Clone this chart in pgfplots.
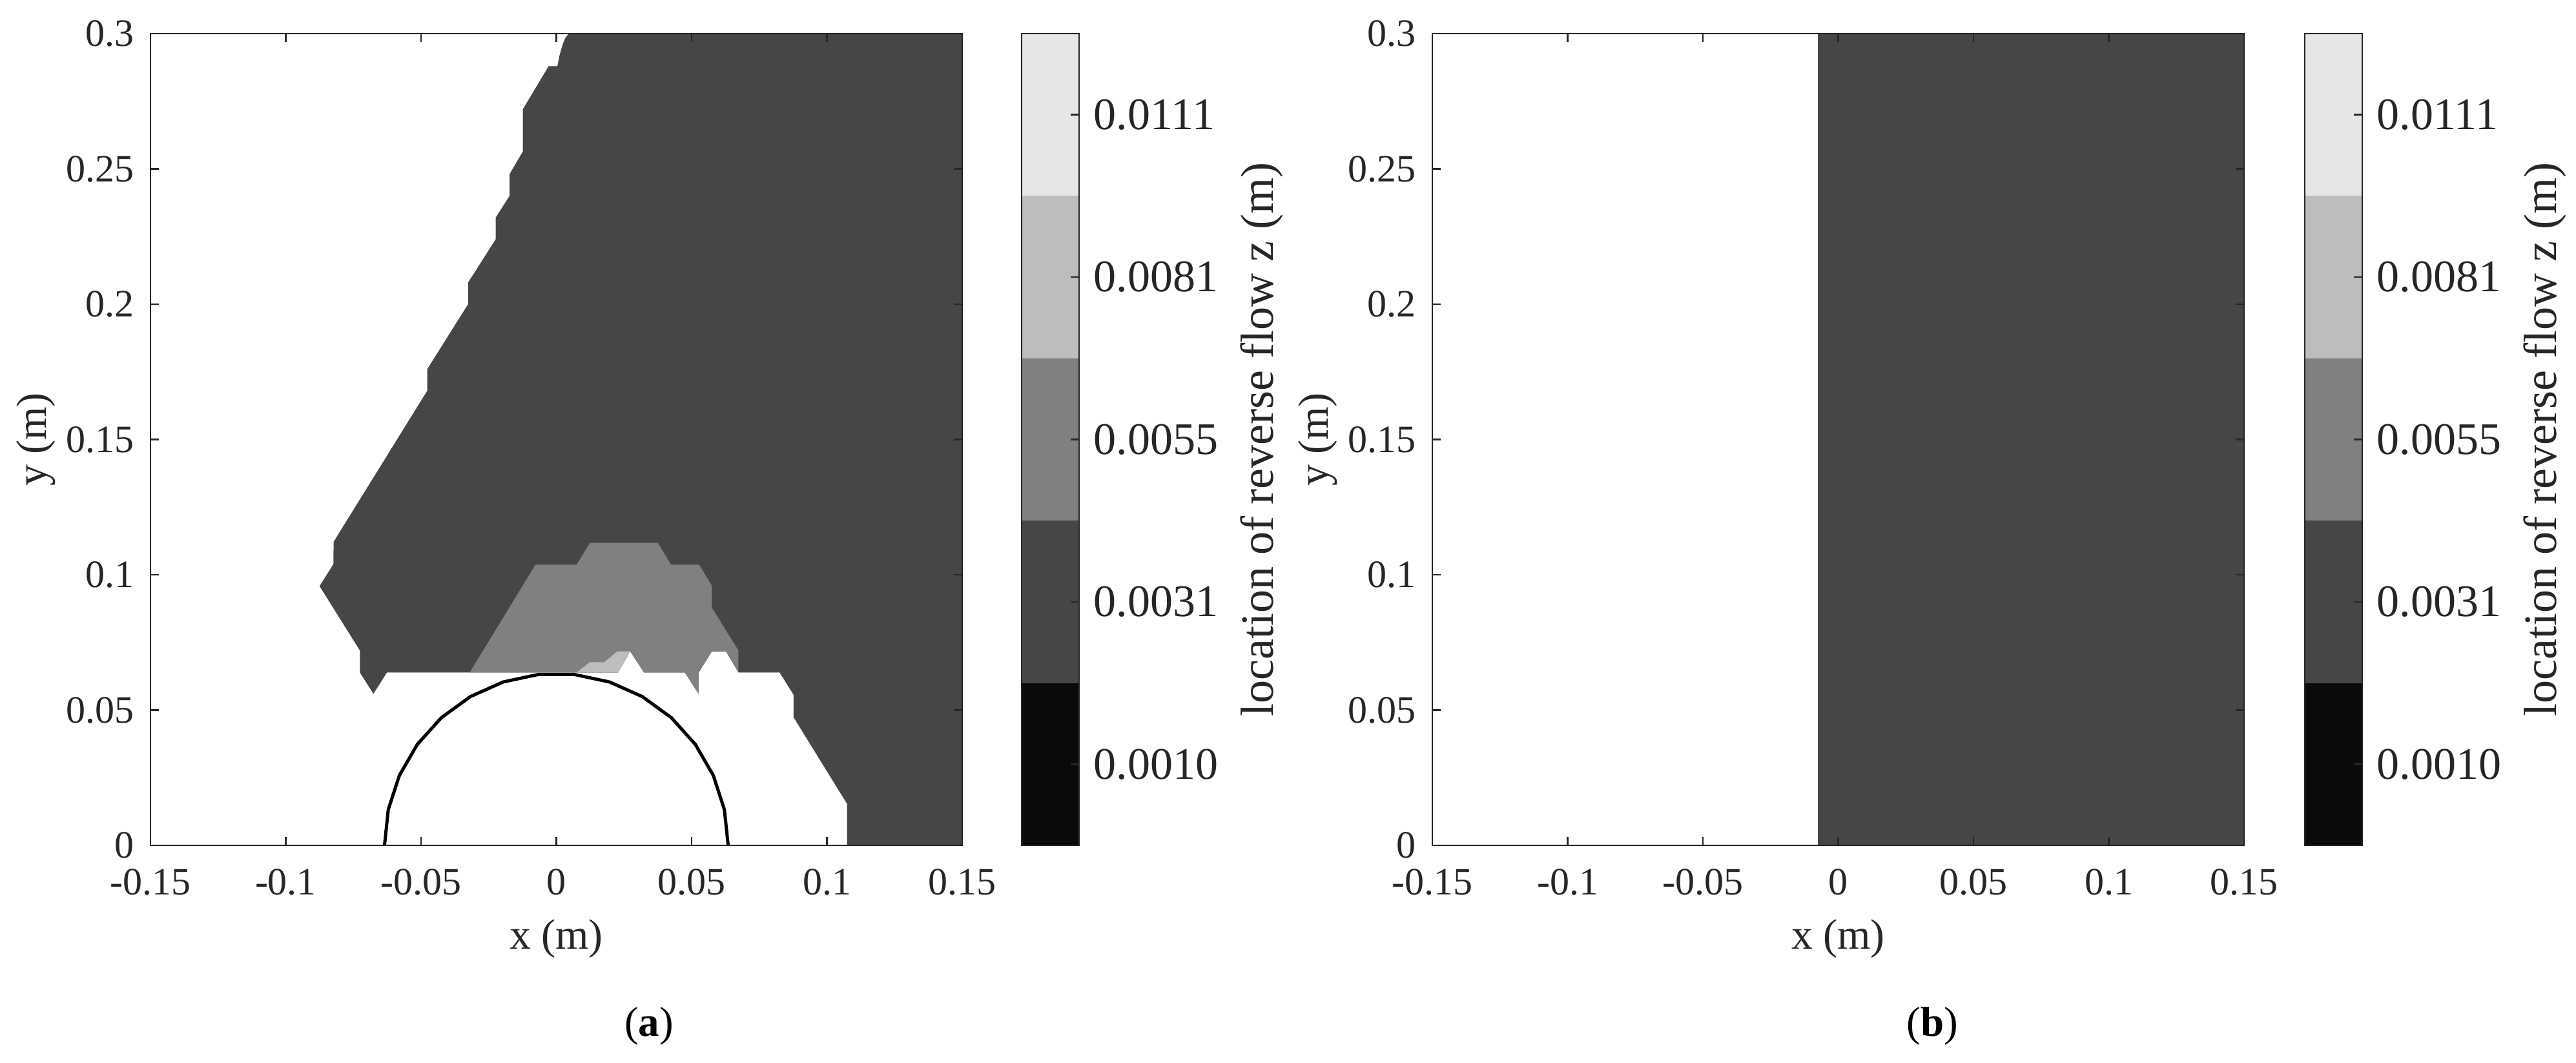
\documentclass[border=0pt]{standalone}
\usepackage{fontspec}
\setmainfont{Liberation Serif}
\usepackage{pgfplots}
\pgfplotsset{compat=1.18}
\definecolor{axgray}{HTML}{262626}
\definecolor{levA}{HTML}{0A0A0A}
\definecolor{levB}{HTML}{464646}
\definecolor{levC}{HTML}{808080}
\definecolor{levD}{HTML}{BDBDBD}
\definecolor{levE}{HTML}{E6E6E6}
\pgfplotsset{
  mainax/.style={
    scale only axis, width=251.4pt, height=251.4pt,
    xmin=-0.15, xmax=0.15, ymin=0, ymax=0.3,
    axis on top, tick align=inside, tick pos=both, major tick length=2.6pt,
    axis line style={draw=axgray, line width=0.55pt},
    tick style={draw=axgray, line width=0.55pt},
    xtick={-0.15,-0.1,-0.05,0,0.05,0.1,0.15},
    xticklabels={-0.15,-0.1,-0.05,0,0.05,0.1,0.15},
    ytick={0,0.05,0.1,0.15,0.2,0.25,0.3},
    yticklabels={0,0.05,0.1,0.15,0.2,0.25,0.3},
    xticklabel style={font=\fontsize{12}{14}\selectfont, text=axgray, yshift=-3.8pt},
    yticklabel style={font=\fontsize{12}{14}\selectfont, text=axgray, xshift=-1.6pt},
    xlabel={x (m)}, ylabel={y (m)},
    xlabel style={font=\fontsize{13.2}{15}\selectfont, text=axgray, at={(axis description cs:0.5,-0.1154)}, anchor=center},
    ylabel style={font=\fontsize{13.2}{15}\selectfont, text=axgray, at={(axis description cs:-0.1408,0.5)}, anchor=center},
  },
  cbar/.style={
    scale only axis, width=17.8pt, height=251.4pt,
    xmin=0, xmax=1, ymin=0, ymax=5,
    axis on top, xtick=\empty,
    ytick={0.5,1.5,2.5,3.5,4.5},
    yticklabels={0.0010,0.0031,0.0055,0.0081,0.0111},
    ytick pos=right, yticklabel pos=right,
    tick align=inside, major tick length=2.6pt,
    axis line style={draw=axgray, line width=0.55pt},
    tick style={draw=axgray, line width=0.55pt},
    yticklabel style={font=\fontsize{14}{16}\selectfont, text=axgray, xshift=1pt},
    ylabel={location of reverse flow z (m)},
    ylabel style={font=\fontsize{14.4}{16}\selectfont, text=axgray, at={(axis description cs:4.18,0.5)}, anchor=center},
  },
}
\begin{document}
\begin{tikzpicture}
\path[use as bounding box] (0,0) rectangle (797.8pt,329.2pt);

% ---------- panel (a) ----------
\begin{axis}[mainax, at={(46.6pt,67.4pt)}, anchor=south west]
\addplot[fill=levB, draw=none] coordinates {
(0.0046,0.3) (0.15,0.3) (0.15,0) (0.1074,0) (0.1074,0.0154) (0.0877,0.0473)
(0.0877,0.0556) (0.0825,0.0639) (0.0673,0.0639) (0.0627,0.0717) (0.0575,0.0717)
(0.0526,0.0639) (0.0526,0.0560) (0.0475,0.0639) (0.0324,0.0639) (0.0273,0.0717)
(0.0228,0.0639) (-0.0626,0.0639) (-0.0676,0.0560) (-0.0726,0.0639) (-0.0726,0.0720)
(-0.0875,0.0958) (-0.0824,0.1039) (-0.0823,0.1122) (-0.0477,0.168) (-0.0477,0.176)
(-0.0326,0.200) (-0.0326,0.208) (-0.0224,0.224) (-0.0224,0.232) (-0.0173,0.240)
(-0.0173,0.248) (-0.0124,0.2564) (-0.0124,0.272) (-0.0028,0.288) (0.0004,0.288)
(0.0012,0.292) (0.0024,0.2962) (0.0034,0.2985)
} --cycle;
\addplot[fill=levC, draw=none] coordinates {
(-0.0320,0.0639) (-0.0077,0.1037) (0.0075,0.1037) (0.0124,0.1118) (0.0375,0.1118)
(0.0424,0.1037) (0.0528,0.1037) (0.0575,0.0959) (0.0575,0.0878) (0.0673,0.0720)
(0.0673,0.0639) (0.0627,0.0717) (0.0575,0.0717) (0.0526,0.0639) (0.0526,0.0560)
(0.0475,0.0639) (0.0324,0.0639) (0.0273,0.0717) (0.0228,0.0639)
} --cycle;
\addplot[fill=levD, draw=none] coordinates {
(0.0075,0.0639) (0.0124,0.0677) (0.0177,0.0677) (0.0226,0.0717) (0.0273,0.0717) (0.0228,0.0639)
} --cycle;
\addplot[black, line width=1pt] coordinates {
(0.0635,0) (0.06211,0.01320) (0.05801,0.02583) (0.05137,0.03732) (0.04249,0.04719)
(0.03175,0.05499) (0.01962,0.06039) (0.00664,0.06315) (-0.00664,0.06315)
(-0.01962,0.06039) (-0.03175,0.05499) (-0.04249,0.04719) (-0.05137,0.03732)
(-0.05801,0.02583) (-0.06211,0.01320) (-0.0635,0)
};
\end{axis}
\begin{axis}[cbar, at={(316.4pt,67.4pt)}, anchor=south west]
\addplot[fill=levA, draw=none] coordinates {(0,0) (1,0) (1,1) (0,1)} --cycle;
\addplot[fill=levB, draw=none] coordinates {(0,1) (1,1) (1,2) (0,2)} --cycle;
\addplot[fill=levC, draw=none] coordinates {(0,2) (1,2) (1,3) (0,3)} --cycle;
\addplot[fill=levD, draw=none] coordinates {(0,3) (1,3) (1,4) (0,4)} --cycle;
\addplot[fill=levE, draw=none] coordinates {(0,4) (1,4) (1,5) (0,5)} --cycle;
\end{axis}

% ---------- panel (b) ----------
\begin{axis}[mainax, at={(443.6pt,67.4pt)}, anchor=south west]
\addplot[fill=levB, draw=none] coordinates {(-0.0076,0) (0.15,0) (0.15,0.3) (-0.0076,0.3)} --cycle;
\end{axis}
\begin{axis}[cbar, at={(713.8pt,67.4pt)}, anchor=south west]
\addplot[fill=levA, draw=none] coordinates {(0,0) (1,0) (1,1) (0,1)} --cycle;
\addplot[fill=levB, draw=none] coordinates {(0,1) (1,1) (1,2) (0,2)} --cycle;
\addplot[fill=levC, draw=none] coordinates {(0,2) (1,2) (1,3) (0,3)} --cycle;
\addplot[fill=levD, draw=none] coordinates {(0,3) (1,3) (1,4) (0,4)} --cycle;
\addplot[fill=levE, draw=none] coordinates {(0,4) (1,4) (1,5) (0,5)} --cycle;
\end{axis}

\node[font=\fontsize{13}{15}\selectfont, anchor=center] at (201pt,11.4pt) {(\textbf{a})};
\node[font=\fontsize{13}{15}\selectfont, anchor=center] at (598.5pt,11.4pt) {(\textbf{b})};
\end{tikzpicture}
\end{document}
